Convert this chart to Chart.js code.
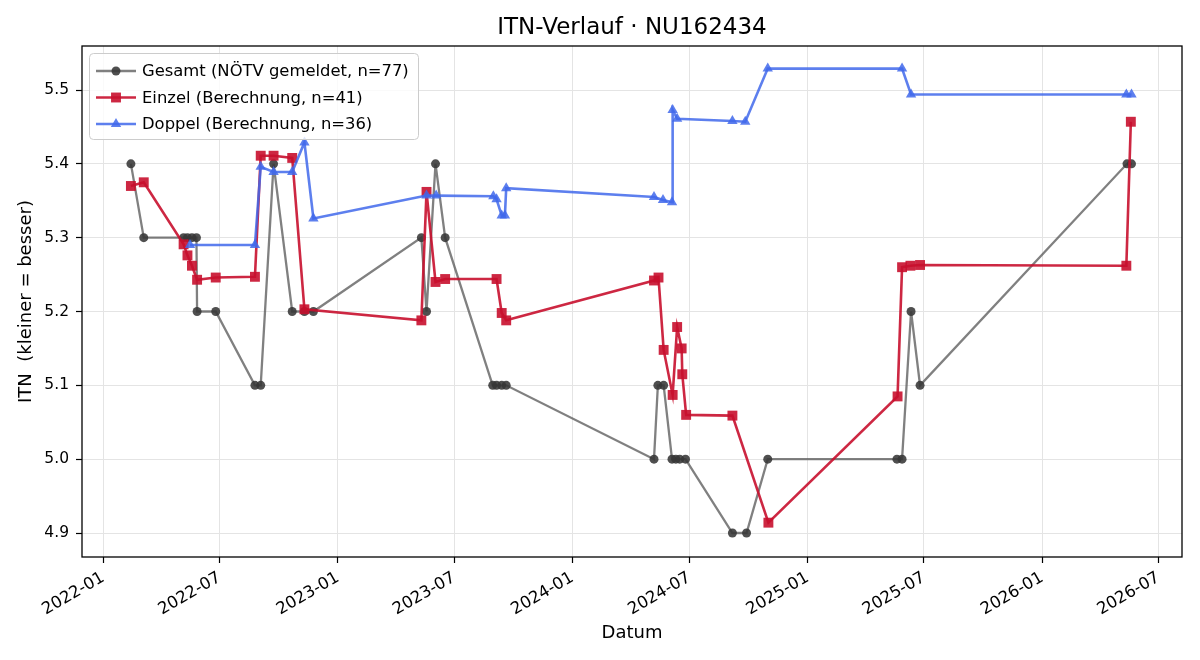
<!DOCTYPE html>
<html>
<head>
<meta charset="utf-8">
<script src="https://cdn.jsdelivr.net/npm/chart.js@4.4.1/dist/chart.umd.min.js"></script>
<style>
  html, body { margin: 0; padding: 0; background: #fff; }
</style>
</head>
<body>
<canvas id="itnChart" width="1200" height="660"></canvas>
<script>
// Gesamt (NÖTV gemeldet)
const gesamtDates = ['2022-02-13', '2022-03-05', '2022-05-06', '2022-05-12', '2022-05-19', '2022-05-26', '2022-05-27',
    '2022-06-25', '2022-08-25', '2022-09-03', '2022-09-23', '2022-10-22', '2022-11-10', '2022-11-24',
    '2023-05-11', '2023-05-19', '2023-06-02', '2023-06-17', '2023-08-30', '2023-09-05', '2023-09-13', '2023-09-20',
    '2024-05-07', '2024-05-13', '2024-05-22', '2024-06-04', '2024-06-10', '2024-06-16', '2024-06-25',
    '2024-09-06', '2024-09-28', '2024-10-31', '2025-05-20', '2025-05-28', '2025-06-11', '2025-06-25',
    '2026-05-13', '2026-05-20'];
const gesamtValues = [5.4, 5.3, 5.3, 5.3, 5.3, 5.3, 5.2,
    5.2, 5.1, 5.1, 5.4, 5.2, 5.2, 5.2,
    5.3, 5.2, 5.4, 5.3, 5.1, 5.1, 5.1, 5.1,
    5.0, 5.1, 5.1, 5.0, 5.0, 5.0, 5.0,
    4.9, 4.9, 5.0, 5.0, 5.0, 5.2, 5.1,
    5.4, 5.4];

// Einzel (Berechnung)
const einzelDates = ['2022-02-13', '2022-03-05', '2022-05-06', '2022-05-12', '2022-05-19', '2022-05-27', '2022-06-25',
    '2022-08-25', '2022-09-03', '2022-09-23', '2022-10-22', '2022-11-10',
    '2023-05-11', '2023-05-19', '2023-06-02', '2023-06-17', '2023-09-05', '2023-09-13', '2023-09-20',
    '2024-05-07', '2024-05-14', '2024-05-22', '2024-06-05', '2024-06-12', '2024-06-19', '2024-06-20', '2024-06-26',
    '2024-09-06', '2024-11-01', '2025-05-21', '2025-05-28', '2025-06-10', '2025-06-25',
    '2026-05-12', '2026-05-19'];
const einzelValues = [5.370, 5.375, 5.291, 5.276, 5.262, 5.243, 5.246,
    5.247, 5.411, 5.411, 5.408, 5.203,
    5.188, 5.362, 5.240, 5.244, 5.244, 5.198, 5.188,
    5.242, 5.246, 5.148, 5.087, 5.179, 5.150, 5.115, 5.060,
    5.059, 4.914, 5.085, 5.260, 5.262, 5.263,
    5.262, 5.457];

// Doppel (Berechnung)
const doppelDates = ['2022-05-16', '2022-08-25', '2022-09-03', '2022-09-23', '2022-10-22', '2022-11-10', '2022-11-24',
    '2023-05-19', '2023-06-03', '2023-08-31', '2023-09-05', '2023-09-13', '2023-09-18', '2023-09-20',
    '2024-05-07', '2024-05-21', '2024-06-04', '2024-06-05', '2024-06-12', '2024-09-06', '2024-09-26', '2024-10-31',
    '2025-05-28', '2025-06-11', '2026-05-12', '2026-05-20'];
const doppelValues = [5.290, 5.290, 5.396, 5.389, 5.389, 5.429, 5.326,
    5.357, 5.357, 5.356, 5.352, 5.330, 5.330, 5.367,
    5.355, 5.351, 5.348, 5.473, 5.461, 5.458, 5.457, 5.529,
    5.529, 5.494, 5.494, 5.494];

const xTickLabels = ['2022-01', '2022-07', '2023-01', '2023-07', '2024-01', '2024-07', '2025-01', '2025-07', '2026-01', '2026-07'];
const yTickValues = [4.9, 5.0, 5.1, 5.2, 5.3, 5.4, 5.5];
const chartTitle = 'ITN-Verlauf · NU162434';

const FONT = "'DejaVu Sans', sans-serif";
const DAY = 86400000;
const base = Date.parse('2022-01-01');

function toPoints(dates, values) {
    return dates.map((d, i) => ({ x: Date.parse(d), y: values[i] }));
}

const series = [
    { label: 'Gesamt (NÖTV gemeldet, n=77)', data: toPoints(gesamtDates, gesamtValues),
      line: 'rgba(85,85,85,0.75)', point: 'rgba(55,55,55,0.88)', style: 'circle', radius: 4.5, width: 2.3 },
    { label: 'Einzel (Berechnung, n=41)', data: toPoints(einzelDates, einzelValues),
      line: 'rgba(200,16,46,0.9)', point: 'rgba(200,16,46,0.9)', style: 'rect', radius: 7, width: 2.6 },
    { label: 'Doppel (Berechnung, n=36)', data: toPoints(doppelDates, doppelValues),
      line: 'rgba(65,105,235,0.85)', point: 'rgba(65,105,235,0.85)', style: 'triangle', radius: 6, width: 2.6 }
];

// draw a marker like the chart's points, used for the legend
function drawMarker(ctx, style, x, y, r) {
    ctx.beginPath();
    if (style === 'circle') {
        ctx.arc(x, y, r, 0, Math.PI * 2);
    } else if (style === 'rect') {
        const s = Math.SQRT1_2 * r;
        ctx.rect(x - s, y - s, 2 * s, 2 * s);
    } else {
        ctx.moveTo(x, y - r);
        ctx.lineTo(x + r * Math.sin(2 * Math.PI / 3), y - r * Math.cos(2 * Math.PI / 3));
        ctx.lineTo(x + r * Math.sin(4 * Math.PI / 3), y - r * Math.cos(4 * Math.PI / 3));
        ctx.closePath();
    }
    ctx.fill();
}

const framePlugin = {
    id: 'frameAndLegend',
    afterDraw(chart) {
        const ctx = chart.ctx;
        const a = chart.chartArea;
        ctx.save();
        // title centred over the axes
        ctx.fillStyle = '#000';
        ctx.font = '23px ' + FONT;
        ctx.textAlign = 'center';
        ctx.textBaseline = 'middle';
        ctx.fillText(chartTitle, (a.left + a.right) / 2, 28);

        // spines on all four sides
        ctx.strokeStyle = '#000';
        ctx.lineWidth = 1.3;
        ctx.strokeRect(a.left, a.top, a.right - a.left, a.bottom - a.top);

        // legend box in the upper left corner
        const bx = 89.5, by = 53.5, bw = 329, bh = 86, rr = 4;
        ctx.beginPath();
        ctx.moveTo(bx + rr, by);
        ctx.arcTo(bx + bw, by, bx + bw, by + bh, rr);
        ctx.arcTo(bx + bw, by + bh, bx, by + bh, rr);
        ctx.arcTo(bx, by + bh, bx, by, rr);
        ctx.arcTo(bx, by, bx + bw, by, rr);
        ctx.closePath();
        ctx.fillStyle = 'rgba(255,255,255,0.8)';
        ctx.fill();
        ctx.strokeStyle = '#cccccc';
        ctx.lineWidth = 1;
        ctx.stroke();

        ctx.font = '16.4px ' + FONT;
        ctx.textBaseline = 'middle';
        ctx.textAlign = 'left';
        series.forEach((s, i) => {
            const y = 71 + i * 26.5;
            ctx.strokeStyle = s.line;
            ctx.lineWidth = s.width;
            ctx.beginPath();
            ctx.moveTo(96, y);
            ctx.lineTo(136, y);
            ctx.stroke();
            ctx.fillStyle = s.point;
            drawMarker(ctx, s.style, 116, y, s.radius);
            ctx.fillStyle = '#000';
            ctx.fillText(s.label, 142, y + 1);
        });
        ctx.restore();
    }
};

const ctx = document.getElementById('itnChart').getContext('2d');
new Chart(ctx, {
    type: 'line',
    data: {
        datasets: series.map((s, i) => ({
            label: s.label,
            data: s.data,
            borderColor: s.line,
            borderWidth: s.width,
            backgroundColor: s.point,
            pointBackgroundColor: s.point,
            pointBorderColor: s.point,
            pointBorderWidth: 0,
            pointStyle: s.style,
            pointRadius: s.radius,
            tension: 0,
            fill: false,
            order: 3 - i
        }))
    },
    options: {
        responsive: false,
        animation: false,
        devicePixelRatio: 1,
        layout: { padding: { left: 0, right: 18, top: 46, bottom: 0 } },
        plugins: {
            legend: { display: false },
            tooltip: { enabled: false },
            title: { display: false }
        },
        scales: {
            x: {
                type: 'linear',
                min: base - 33.1 * DAY,
                max: base + 1678.6 * DAY,
                afterBuildTicks: (scale) => {
                    scale.ticks = xTickLabels.map(l => ({ value: Date.parse(l + '-01') }));
                },
                afterFit: (scale) => { scale.height = 103; },
                ticks: {
                    autoSkip: false,
                    minRotation: 30,
                    maxRotation: 30,
                    padding: 5,
                    color: '#000',
                    font: { family: FONT, size: 16.5 },
                    callback: (v) => {
                        const d = new Date(v);
                        return d.getUTCFullYear() + '-' + String(d.getUTCMonth() + 1).padStart(2, '0');
                    }
                },
                grid: { color: '#e4e4e4', lineWidth: 1, tickColor: '#000', tickLength: 6, tickWidth: 1.2 },
                border: { display: false },
                title: {
                    display: true,
                    text: 'Datum',
                    color: '#000',
                    font: { family: FONT, size: 18 },
                    padding: { top: 0, bottom: 16 }
                }
            },
            y: {
                type: 'linear',
                min: 4.8675,
                max: 5.5596,
                afterBuildTicks: (scale) => {
                    scale.ticks = yTickValues.map(v => ({ value: v }));
                },
                afterFit: (scale) => { scale.width = 82; },
                ticks: {
                    padding: 7,
                    color: '#000',
                    font: { family: FONT, size: 15.5 },
                    callback: (v) => v.toFixed(1)
                },
                grid: { color: '#e4e4e4', lineWidth: 1, tickColor: '#000', tickLength: 6, tickWidth: 1.2 },
                border: { display: false },
                title: {
                    display: true,
                    text: 'ITN  (kleiner = besser)',
                    color: '#000',
                    font: { family: FONT, size: 18 },
                    padding: { top: 16, bottom: 0 }
                }
            }
        }
    },
    plugins: [framePlugin]
});
</script>
</body>
</html>
